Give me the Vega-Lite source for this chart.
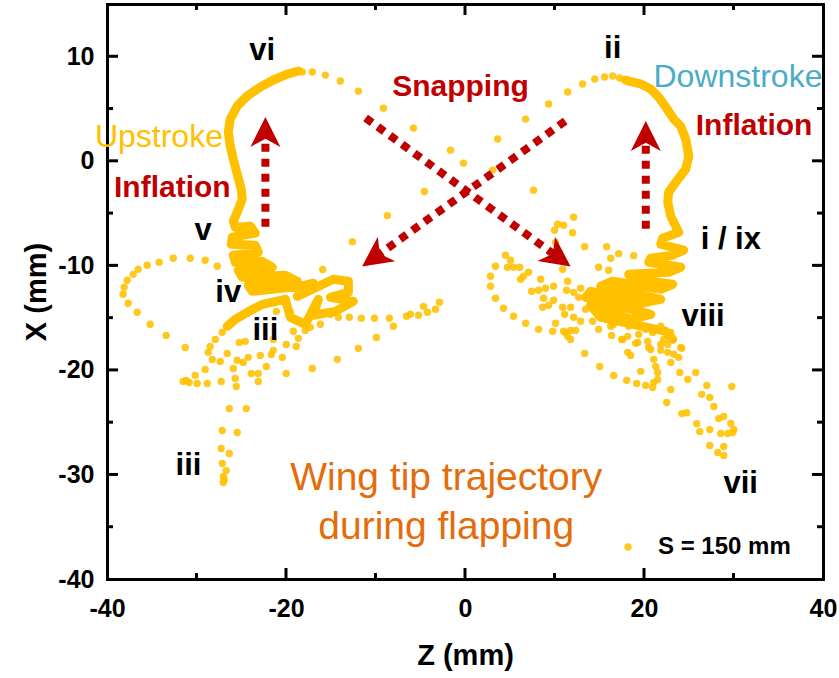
{
  "$schema": "https://vega.github.io/schema/vega-lite/v6.json",
  "width": 716,
  "height": 575,
  "autosize": "none",
  "padding": {"left": 107, "top": 4, "right": 16, "bottom": 99},
  "background": "white",
  "config": {"view": {"stroke": null}, "font": "Liberation Sans"},
  "datasets": {
    "dots": [
      {"z": -18.18, "x": 8.5}, {"z": -17.06, "x": 8.5}, {"z": -15.6, "x": 8.2}, {"z": -13.93, "x": 7.63}, {"z": -11.91, "x": 6.67}, {"z": -9.12, "x": 5.04},
      {"z": -5.76, "x": 3.13}, {"z": -1.62, "x": 1.02}, {"z": -0.17, "x": -0.22}, {"z": -4.53, "x": -2.94}, {"z": -8.67, "x": -5.24}, {"z": -12.58, "x": -7.73}, {"z": -15.9, "x": -10.4},
      {"z": 3.64, "x": 2.08}, {"z": 3.08, "x": -0.89}, {"z": 6.77, "x": 3.99}, {"z": 9.34, "x": 5.43}, {"z": 11.47, "x": 6.58}, {"z": 13.14, "x": 7.35}, {"z": 14.49, "x": 7.83}, {"z": 15.6, "x": 8.02}, {"z": 16.5, "x": 8.12}, {"z": 17.28, "x": 7.92}, {"z": 7.66, "x": -2.81},
      {"z": -32.6, "x": -9.32}, {"z": -30.7, "x": -9.32}, {"z": -29.03, "x": -9.51}, {"z": -27.68, "x": -10.08}, {"z": -34.17, "x": -9.7}, {"z": -35.51, "x": -9.99}, {"z": -36.52, "x": -10.38}, {"z": -37.08, "x": -10.86}, {"z": -37.75, "x": -11.43}, {"z": -38.09, "x": -12.1}, {"z": -38.2, "x": -12.77}, {"z": -37.64, "x": -13.63}, {"z": -36.63, "x": -14.49}, {"z": -35.18, "x": -15.64}, {"z": -33.39, "x": -16.7}, {"z": -31.26, "x": -17.85},
      {"z": -27.12, "x": -16.4}, {"z": -27.9, "x": -17.08}, {"z": -28.47, "x": -17.75}, {"z": -28.69, "x": -18.32}, {"z": -28.24, "x": -19.0}, {"z": -27.35, "x": -19.19},
      {"z": -25.22, "x": -17.37}, {"z": -24.55, "x": -17.27}, {"z": -26.57, "x": -18.42}, {"z": -25.45, "x": -19.08}, {"z": -24.78, "x": -19.28}, {"z": -24.22, "x": -18.8}, {"z": -22.87, "x": -18.61}, {"z": -22.2, "x": -19.67}, {"z": -21.64, "x": -18.52}, {"z": -21.42, "x": -18.13}, {"z": -20.41, "x": -18.8}, {"z": -19.97, "x": -17.56}, {"z": -18.85, "x": -17.75}, {"z": -18.62, "x": -16.98},
      {"z": -23.88, "x": -20.34}, {"z": -23.1, "x": -20.34}, {"z": -23.1, "x": -21.1}, {"z": -25.89, "x": -19.86}, {"z": -25.67, "x": -20.81}, {"z": -25.56, "x": -21.58}, {"z": -27.24, "x": -21.1}, {"z": -28.8, "x": -21.29}, {"z": -29.92, "x": -21.29}, {"z": -30.82, "x": -21.2}, {"z": -31.49, "x": -21.1}, {"z": -31.15, "x": -21.0}, {"z": -30.15, "x": -20.52}, {"z": -29.03, "x": -19.95},
      {"z": -17.06, "x": -19.86}, {"z": -19.97, "x": -20.34}, {"z": -14.26, "x": -18.99}, {"z": -11.91, "x": -17.94}, {"z": -9.9, "x": -16.89}, {"z": -21.42, "x": -17.08},
      {"z": -21.08, "x": -14.4}, {"z": -19.52, "x": -14.49}, {"z": -19.18, "x": -16.31}, {"z": -17.84, "x": -16.22}, {"z": -17.28, "x": -15.93}, {"z": -16.16, "x": -15.64}, {"z": -15.04, "x": -14.68}, {"z": -14.15, "x": -14.97},
      {"z": -12.92, "x": -14.97}, {"z": -11.58, "x": -15.06}, {"z": -10.12, "x": -15.06}, {"z": -8.45, "x": -15.06}, {"z": -8.0, "x": -15.83}, {"z": -6.54, "x": -14.87}, {"z": -5.2, "x": -14.77}, {"z": -4.19, "x": -14.49}, {"z": -3.3, "x": -14.2}, {"z": -2.85, "x": -13.53}, {"z": -4.64, "x": -13.92}, {"z": -6.1, "x": -14.68},
      {"z": -26.34, "x": -23.7}, {"z": -24.44, "x": -23.7}, {"z": -27.12, "x": -25.8}, {"z": -25.45, "x": -25.99}, {"z": -27.24, "x": -27.52}, {"z": -26.34, "x": -28.0}, {"z": -27.12, "x": -28.96}, {"z": -26.68, "x": -29.63}, {"z": -27.01, "x": -30.2}, {"z": -26.9, "x": -30.5}, {"z": -27.01, "x": -30.78},
      {"z": 12.14, "x": -5.39}, {"z": 10.35, "x": -6.06}, {"z": 11.02, "x": -6.16}, {"z": 10.01, "x": -6.64}, {"z": 12.02, "x": -6.87}, {"z": 13.37, "x": -8.21}, {"z": 15.83, "x": -8.21}, {"z": 17.17, "x": -8.88}, {"z": 18.85, "x": -9.07}, {"z": 16.28, "x": -9.32}, {"z": 14.93, "x": -10.18}, {"z": 16.05, "x": -10.47}, {"z": 10.91, "x": -10.37}, {"z": 11.47, "x": -11.52}, {"z": 11.35, "x": -12.38}, {"z": 10.12, "x": -7.82},
      {"z": 4.53, "x": -9.03}, {"z": 5.09, "x": -9.51}, {"z": 3.41, "x": -10.08}, {"z": 4.75, "x": -10.18}, {"z": 5.42, "x": -10.18}, {"z": 6.1, "x": -10.18}, {"z": 7.1, "x": -10.66}, {"z": 6.54, "x": -11.04}, {"z": 6.21, "x": -11.33}, {"z": 2.85, "x": -11.04}, {"z": 2.85, "x": -12.0}, {"z": 3.41, "x": -13.15}, {"z": 4.31, "x": -14.11}, {"z": 5.42, "x": -14.87}, {"z": 6.77, "x": -15.54}, {"z": 8.22, "x": -16.12}, {"z": 9.79, "x": -16.31},
      {"z": 8.45, "x": -11.33}, {"z": 7.44, "x": -12.48}, {"z": 8.22, "x": -12.38}, {"z": 9.0, "x": -12.19}, {"z": 8.78, "x": -13.15}, {"z": 9.9, "x": -12.0}, {"z": 9.9, "x": -13.34}, {"z": 9.34, "x": -13.82}, {"z": 8.67, "x": -14.01}, {"z": 10.91, "x": -14.01}, {"z": 11.8, "x": -14.01}, {"z": 11.13, "x": -14.68}, {"z": 12.14, "x": -14.97}, {"z": 12.92, "x": -15.35}, {"z": 13.48, "x": -14.2}, {"z": 10.12, "x": -15.54}, {"z": 11.8, "x": -16.22}, {"z": 11.02, "x": -16.31}, {"z": 11.47, "x": -16.79}, {"z": 12.7, "x": -13.06}, {"z": 12.14, "x": -12.58}, {"z": 12.92, "x": -12.19},
      {"z": 16.28, "x": -15.83}, {"z": 18.18, "x": -16.79}, {"z": 19.3, "x": -17.37}, {"z": 17.62, "x": -17.08}, {"z": 22.99, "x": -16.41}, {"z": 24.1, "x": -17.85},
      {"z": 14.26, "x": -15.35}, {"z": 14.93, "x": -16.12}, {"z": 16.61, "x": -15.64}, {"z": 17.62, "x": -15.35}, {"z": 18.29, "x": -15.83}, {"z": 19.63, "x": -15.83}, {"z": 20.19, "x": -16.12}, {"z": 20.97, "x": -16.41}, {"z": 21.87, "x": -15.83}, {"z": 22.2, "x": -17.08}, {"z": 20.53, "x": -17.85}, {"z": 21.87, "x": -17.56},
      {"z": 11.24, "x": -16.41}, {"z": 11.8, "x": -17.08}, {"z": 12.36, "x": -16.22}, {"z": 13.37, "x": -18.42}, {"z": 15.04, "x": -19.67}, {"z": 16.61, "x": -20.53}, {"z": 18.06, "x": -21.0}, {"z": 19.18, "x": -21.29}, {"z": 20.19, "x": -21.48}, {"z": 20.97, "x": -21.68}, {"z": 21.09, "x": -21.2}, {"z": 21.53, "x": -20.91}, {"z": 21.53, "x": -20.24}, {"z": 21.31, "x": -19.67}, {"z": 21.09, "x": -18.99}, {"z": 19.63, "x": -20.14}, {"z": 18.18, "x": -18.32}, {"z": 18.51, "x": -18.61},
      {"z": 16.39, "x": -16.7}, {"z": 17.51, "x": -17.08}, {"z": 19.07, "x": -17.46}, {"z": 19.41, "x": -16.6}, {"z": 20.41, "x": -17.27}, {"z": 20.75, "x": -18.04}, {"z": 21.87, "x": -18.13}, {"z": 22.65, "x": -17.56}, {"z": 22.65, "x": -18.32}, {"z": 23.32, "x": -18.5}, {"z": 23.88, "x": -18.8}, {"z": 22.99, "x": -19.28}, {"z": 24.22, "x": -17.94}, {"z": 24.0, "x": -20.24}, {"z": 24.89, "x": -20.91}, {"z": 25.78, "x": -20.24},
      {"z": 22.99, "x": -21.87}, {"z": 22.54, "x": -23.12}, {"z": 24.22, "x": -24.18}, {"z": 24.78, "x": -24.09}, {"z": 25.89, "x": -25.14}, {"z": 26.23, "x": -25.9}, {"z": 27.35, "x": -25.71}, {"z": 26.45, "x": -22.34}, {"z": 27.01, "x": -21.48}, {"z": 27.35, "x": -22.63}, {"z": 27.8, "x": -23.5}, {"z": 28.36, "x": -24.64}, {"z": 28.91, "x": -24.45}, {"z": 29.7, "x": -25.12}, {"z": 30.03, "x": -25.7}, {"z": 29.92, "x": -25.99}, {"z": 29.36, "x": -26.08}, {"z": 28.58, "x": -26.08}, {"z": 27.35, "x": -27.23}, {"z": 28.91, "x": -27.33}, {"z": 28.24, "x": -27.9}, {"z": 28.91, "x": -28.19}, {"z": 29.81, "x": -21.58}
    ],
    "traces": [
      {"trace": "L1", "i": 1, "z": -25.67, "x": -6.35}, {"trace": "L1", "i": 2, "z": -25.89, "x": -5.78}, {"trace": "L1", "i": 3, "z": -25.45, "x": -4.91}, {"trace": "L1", "i": 4, "z": -24.89, "x": -3.67}, {"trace": "L1", "i": 5, "z": -25.0, "x": -2.71}, {"trace": "L1", "i": 6, "z": -25.45, "x": -1.27}, {"trace": "L1", "i": 7, "z": -25.89, "x": 0.16}, {"trace": "L1", "i": 8, "z": -26.23, "x": 1.41}, {"trace": "L1", "i": 9, "z": -26.45, "x": 2.75}, {"trace": "L1", "i": 10, "z": -26.23, "x": 3.99}, {"trace": "L1", "i": 11, "z": -25.45, "x": 5.24}, {"trace": "L1", "i": 12, "z": -24.33, "x": 6.2}, {"trace": "L1", "i": 13, "z": -22.87, "x": 7.06}, {"trace": "L1", "i": 14, "z": -21.42, "x": 7.73}, {"trace": "L1", "i": 15, "z": -19.85, "x": 8.3}, {"trace": "L1", "i": 16, "z": -18.62, "x": 8.59},
      {"trace": "L2", "i": 1, "z": -25.67, "x": -6.35}, {"trace": "L2", "i": 2, "z": -23.99, "x": -6.25}, {"trace": "L2", "i": 3, "z": -23.43, "x": -6.92}, {"trace": "L2", "i": 4, "z": -26.0, "x": -7.3}, {"trace": "L2", "i": 5, "z": -26.12, "x": -7.98}, {"trace": "L2", "i": 6, "z": -23.43, "x": -8.07}, {"trace": "L2", "i": 7, "z": -23.1, "x": -8.75}, {"trace": "L2", "i": 8, "z": -25.89, "x": -9.03}, {"trace": "L2", "i": 9, "z": -25.67, "x": -9.7}, {"trace": "L2", "i": 10, "z": -22.65, "x": -9.61}, {"trace": "L2", "i": 11, "z": -21.53, "x": -10.18}, {"trace": "L2", "i": 12, "z": -25.34, "x": -10.47}, {"trace": "L2", "i": 13, "z": -24.89, "x": -11.14}, {"trace": "L2", "i": 14, "z": -20.08, "x": -10.95}, {"trace": "L2", "i": 15, "z": -18.74, "x": -11.52}, {"trace": "L2", "i": 16, "z": -24.22, "x": -11.9}, {"trace": "L2", "i": 17, "z": -23.77, "x": -12.48}, {"trace": "L2", "i": 18, "z": -18.4, "x": -12.0}, {"trace": "L2", "i": 19, "z": -16.95, "x": -11.7}, {"trace": "L2", "i": 20, "z": -18.74, "x": -12.96}, {"trace": "L2", "i": 21, "z": -14.71, "x": -11.33}, {"trace": "L2", "i": 22, "z": -13.03, "x": -11.52}, {"trace": "L2", "i": 23, "z": -13.03, "x": -12.58}, {"trace": "L2", "i": 24, "z": -15.04, "x": -13.06}, {"trace": "L2", "i": 25, "z": -12.47, "x": -13.44}, {"trace": "L2", "i": 26, "z": -14.49, "x": -14.4}, {"trace": "L2", "i": 27, "z": -16.95, "x": -14.77}, {"trace": "L2", "i": 28, "z": -16.39, "x": -13.25}, {"trace": "L2", "i": 29, "z": -17.84, "x": -15.64}, {"trace": "L2", "i": 30, "z": -19.52, "x": -14.97}, {"trace": "L2", "i": 31, "z": -20.08, "x": -13.25},
      {"trace": "L3", "i": 1, "z": -20.08, "x": -13.25}, {"trace": "L3", "i": 2, "z": -22.65, "x": -13.73}, {"trace": "L3", "i": 3, "z": -24.33, "x": -14.49}, {"trace": "L3", "i": 4, "z": -25.67, "x": -15.16}, {"trace": "L3", "i": 5, "z": -26.57, "x": -15.83},
      {"trace": "R1", "i": 1, "z": 17.95, "x": 7.73}, {"trace": "R1", "i": 2, "z": 18.29, "x": 7.63}, {"trace": "R1", "i": 3, "z": 19.63, "x": 7.35}, {"trace": "R1", "i": 4, "z": 20.75, "x": 6.87}, {"trace": "R1", "i": 5, "z": 21.64, "x": 6.1}, {"trace": "R1", "i": 6, "z": 22.43, "x": 5.14}, {"trace": "R1", "i": 7, "z": 23.32, "x": 3.99}, {"trace": "R1", "i": 8, "z": 24.1, "x": 3.32}, {"trace": "R1", "i": 9, "z": 24.66, "x": 2.08}, {"trace": "R1", "i": 10, "z": 25.0, "x": 0.45}, {"trace": "R1", "i": 11, "z": 24.66, "x": -0.8}, {"trace": "R1", "i": 12, "z": 23.55, "x": -2.04}, {"trace": "R1", "i": 13, "z": 22.76, "x": -3.0}, {"trace": "R1", "i": 14, "z": 22.65, "x": -3.95}, {"trace": "R1", "i": 15, "z": 22.99, "x": -5.3}, {"trace": "R1", "i": 16, "z": 23.55, "x": -6.25}, {"trace": "R1", "i": 17, "z": 23.88, "x": -6.83},
      {"trace": "R2", "i": 1, "z": 23.88, "x": -6.83}, {"trace": "R2", "i": 2, "z": 22.09, "x": -7.4}, {"trace": "R2", "i": 3, "z": 21.87, "x": -7.98}, {"trace": "R2", "i": 4, "z": 24.44, "x": -8.55}, {"trace": "R2", "i": 5, "z": 23.21, "x": -9.03}, {"trace": "R2", "i": 6, "z": 20.75, "x": -9.32}, {"trace": "R2", "i": 7, "z": 20.53, "x": -9.7}, {"trace": "R2", "i": 8, "z": 24.1, "x": -10.18}, {"trace": "R2", "i": 9, "z": 22.76, "x": -10.66}, {"trace": "R2", "i": 10, "z": 18.29, "x": -10.86}, {"trace": "R2", "i": 11, "z": 18.74, "x": -11.33}, {"trace": "R2", "i": 12, "z": 23.21, "x": -11.81}, {"trace": "R2", "i": 13, "z": 21.87, "x": -12.29}, {"trace": "R2", "i": 14, "z": 16.5, "x": -11.52}, {"trace": "R2", "i": 15, "z": 15.16, "x": -12.0}, {"trace": "R2", "i": 16, "z": 21.87, "x": -13.25}, {"trace": "R2", "i": 17, "z": 19.63, "x": -13.64}, {"trace": "R2", "i": 18, "z": 14.04, "x": -12.48}, {"trace": "R2", "i": 19, "z": 13.48, "x": -13.06}, {"trace": "R2", "i": 20, "z": 20.75, "x": -14.68}, {"trace": "R2", "i": 21, "z": 18.51, "x": -15.16}, {"trace": "R2", "i": 22, "z": 14.04, "x": -13.82}, {"trace": "R2", "i": 23, "z": 15.16, "x": -14.97}, {"trace": "R2", "i": 24, "z": 22.43, "x": -16.32}, {"trace": "R2", "i": 25, "z": 23.21, "x": -17.08}
    ],
    "arrows": [
      {"dir": "up", "z0": -22.3, "x0": -6.3, "zs": -22.3, "xs": 2.3, "z1": -22.3, "x1": 4.2},
      {"dir": "up", "z0": 20.2, "x0": -6.5, "zs": 20.2, "xs": 1.9, "z1": 20.2, "x1": 3.8},
      {"dir": "down-right", "z0": -11.1, "x0": 4.1, "zs": 10.0, "xs": -8.98, "z1": 11.8, "x1": -10.1},
      {"dir": "down-left", "z0": 11.2, "x0": 3.8, "zs": -9.68, "xs": -8.99, "z1": -11.5, "x1": -10.1}
    ],
    "zticks": [
      {"at": -30, "rank": "minor"}, {"at": -20, "rank": "major"}, {"at": -10, "rank": "minor"}, {"at": 0, "rank": "major"},
      {"at": 10, "rank": "minor"}, {"at": 20, "rank": "major"}, {"at": 30, "rank": "minor"}
    ],
    "xticks": [
      {"at": -35, "rank": "minor"}, {"at": -30, "rank": "major"}, {"at": -25, "rank": "minor"}, {"at": -20, "rank": "major"}, {"at": -15, "rank": "minor"},
      {"at": -10, "rank": "major"}, {"at": -5, "rank": "minor"}, {"at": 0, "rank": "major"}, {"at": 5, "rank": "minor"}, {"at": 10, "rank": "major"}
    ],
    "notes": [
      {"kind": "stage", "text": "vi", "z": -22.65, "x": 10.5},
      {"kind": "stage", "text": "ii", "z": 16.5, "x": 10.7},
      {"kind": "stage", "text": "v", "z": -29.25, "x": -6.7},
      {"kind": "stage", "text": "iv", "z": -26.45, "x": -12.6},
      {"kind": "stage", "text": "iii", "z": -22.3, "x": -16.3},
      {"kind": "stage", "text": "iii", "z": -30.9, "x": -29.2},
      {"kind": "stage", "text": "i / ix", "z": 29.7, "x": -7.6},
      {"kind": "stage", "text": "viii", "z": 26.6, "x": -14.9},
      {"kind": "stage", "text": "vii", "z": 30.8, "x": -30.9},
      {"kind": "effect", "text": "Snapping", "z": -0.5, "x": 7.1},
      {"kind": "effect", "text": "Inflation", "z": 32.3, "x": 3.3},
      {"kind": "effect", "text": "Inflation", "z": -32.7, "x": -2.6},
      {"kind": "upstroke", "text": "Upstroke", "z": -34.2, "x": 2.3},
      {"kind": "downstroke", "text": "Downstroke", "z": 30.5, "x": 8.0},
      {"kind": "caption", "text": "Wing tip trajectory", "z": -2.1, "x": -30.3},
      {"kind": "caption", "text": "during flapping", "z": -2.1, "x": -35.0}
    ]
  },
  "resolve": {"axis": {"x": "independent", "y": "independent"}},
  "layer": [
    {
      "data": {"name": "dots"},
      "mark": {"type": "circle", "size": 55, "opacity": 0.88},
      "encoding": {
        "x": {
          "field": "z", "type": "quantitative",
          "scale": {"domain": [-40, 40], "nice": false, "zero": false},
          "axis": {
            "orient": "bottom", "title": "Z (mm)", "grid": false, "ticks": false,
            "values": [-40, -20, 0, 20, 40],
            "labelExpr": "'' + datum.value",
            "labelFont": "Liberation Sans", "labelFontSize": 25, "labelFontWeight": "bold", "labelColor": "black",
            "labelPadding": 17, "labelFlush": false, "labelOverlap": false,
            "domainWidth": 3, "domainColor": "black", "domainCap": "square",
            "titleFont": "Liberation Sans", "titleFontSize": 29, "titleFontWeight": "bold", "titleColor": "black", "titlePadding": 20
          }
        },
        "y": {
          "field": "x", "type": "quantitative",
          "scale": {"domain": [-40, 15], "nice": false, "zero": false},
          "axis": {
            "orient": "left", "title": "X (mm)", "grid": false, "ticks": false,
            "values": [-40, -30, -20, -10, 0, 10],
            "labelExpr": "'' + datum.value",
            "labelFont": "Liberation Sans", "labelFontSize": 25, "labelFontWeight": "bold", "labelColor": "black",
            "labelPadding": 13, "labelFlush": false, "labelOverlap": false,
            "domainWidth": 3, "domainColor": "black", "domainCap": "square",
            "titleFont": "Liberation Sans", "titleFontSize": 29, "titleFontWeight": "bold", "titleColor": "black", "titlePadding": 6
          }
        },
        "color": {
          "datum": "S = 150 mm",
          "scale": {"range": ["#FFC000"]},
          "legend": {
            "title": null, "orient": "none", "legendX": 509, "legendY": 531, "padding": 0,
            "symbolType": "circle", "symbolSize": 55, "symbolStrokeWidth": 0,
            "labelFont": "Liberation Sans", "labelFontSize": 24, "labelFontWeight": "bold", "labelColor": "black", "labelOffset": 18
          }
        }
      }
    },
    {
      "data": {"name": "traces"},
      "mark": {"type": "line", "color": "#FFC000", "strokeWidth": 9, "strokeCap": "round", "strokeJoin": "round"},
      "encoding": {
        "x": {
          "field": "z", "type": "quantitative",
          "scale": {"domain": [-40, 40], "nice": false, "zero": false},
          "axis": {"orient": "top", "title": null, "grid": false, "labels": false, "ticks": false, "domainWidth": 3, "domainColor": "black", "domainCap": "square"}
        },
        "y": {
          "field": "x", "type": "quantitative",
          "scale": {"domain": [-40, 15], "nice": false, "zero": false},
          "axis": {"orient": "right", "title": null, "grid": false, "labels": false, "ticks": false, "domainWidth": 3, "domainColor": "black", "domainCap": "square"}
        },
        "detail": {"field": "trace"},
        "order": {"field": "i", "type": "quantitative"}
      }
    },
    {
      "data": {"name": "arrows"},
      "mark": {"type": "rule", "color": "#C00000", "strokeWidth": 8, "strokeDash": [8, 7], "strokeCap": "butt"},
      "encoding": {
        "x": {"field": "z0", "type": "quantitative", "scale": {"domain": [-40, 40], "nice": false, "zero": false}, "axis": null},
        "y": {"field": "x0", "type": "quantitative", "scale": {"domain": [-40, 15], "nice": false, "zero": false}, "axis": null},
        "x2": {"field": "zs"},
        "y2": {"field": "xs"}
      }
    },
    {
      "data": {"name": "arrows"},
      "transform": [{"filter": "datum.dir === 'up'"}],
      "mark": {"type": "point", "shape": "M0,0 L1,2 L0,1.45 L-1,2 Z", "filled": true, "color": "#C00000", "opacity": 1, "size": 900, "strokeWidth": 0, "angle": 0},
      "encoding": {
        "x": {"field": "z1", "type": "quantitative", "scale": {"domain": [-40, 40], "nice": false, "zero": false}, "axis": null},
        "y": {"field": "x1", "type": "quantitative", "scale": {"domain": [-40, 15], "nice": false, "zero": false}, "axis": null}
      }
    },
    {
      "data": {"name": "arrows"},
      "transform": [{"filter": "datum.dir === 'down-right'"}],
      "mark": {"type": "point", "shape": "M0,0 L1,2 L0,1.45 L-1,2 Z", "filled": true, "color": "#C00000", "opacity": 1, "size": 900, "strokeWidth": 0, "angle": 125.8},
      "encoding": {
        "x": {"field": "z1", "type": "quantitative", "scale": {"domain": [-40, 40], "nice": false, "zero": false}, "axis": null},
        "y": {"field": "x1", "type": "quantitative", "scale": {"domain": [-40, 15], "nice": false, "zero": false}, "axis": null}
      }
    },
    {
      "data": {"name": "arrows"},
      "transform": [{"filter": "datum.dir === 'down-left'"}],
      "mark": {"type": "point", "shape": "M0,0 L1,2 L0,1.45 L-1,2 Z", "filled": true, "color": "#C00000", "opacity": 1, "size": 900, "strokeWidth": 0, "angle": 234.5},
      "encoding": {
        "x": {"field": "z1", "type": "quantitative", "scale": {"domain": [-40, 40], "nice": false, "zero": false}, "axis": null},
        "y": {"field": "x1", "type": "quantitative", "scale": {"domain": [-40, 15], "nice": false, "zero": false}, "axis": null}
      }
    },
    {
      "data": {"name": "notes"},
      "transform": [{"filter": "datum.kind === 'stage'"}],
      "mark": {"type": "text", "font": "Liberation Sans", "fontSize": 31, "fontWeight": "bold", "color": "black", "align": "center", "baseline": "middle"},
      "encoding": {
        "x": {"field": "z", "type": "quantitative", "scale": {"domain": [-40, 40], "nice": false, "zero": false}, "axis": null},
        "y": {"field": "x", "type": "quantitative", "scale": {"domain": [-40, 15], "nice": false, "zero": false}, "axis": null},
        "text": {"field": "text"}
      }
    },
    {
      "data": {"name": "notes"},
      "transform": [{"filter": "datum.kind === 'effect'"}],
      "mark": {"type": "text", "font": "Liberation Sans", "fontSize": 30, "fontWeight": "bold", "color": "#C00000", "align": "center", "baseline": "middle"},
      "encoding": {
        "x": {"field": "z", "type": "quantitative", "scale": {"domain": [-40, 40], "nice": false, "zero": false}, "axis": null},
        "y": {"field": "x", "type": "quantitative", "scale": {"domain": [-40, 15], "nice": false, "zero": false}, "axis": null},
        "text": {"field": "text"}
      }
    },
    {
      "data": {"name": "notes"},
      "transform": [{"filter": "datum.kind === 'upstroke'"}],
      "mark": {"type": "text", "font": "Liberation Sans", "fontSize": 32, "fontWeight": "normal", "color": "#FFC000", "align": "center", "baseline": "middle"},
      "encoding": {
        "x": {"field": "z", "type": "quantitative", "scale": {"domain": [-40, 40], "nice": false, "zero": false}, "axis": null},
        "y": {"field": "x", "type": "quantitative", "scale": {"domain": [-40, 15], "nice": false, "zero": false}, "axis": null},
        "text": {"field": "text"}
      }
    },
    {
      "data": {"name": "notes"},
      "transform": [{"filter": "datum.kind === 'downstroke'"}],
      "mark": {"type": "text", "font": "Liberation Sans", "fontSize": 32, "fontWeight": "normal", "color": "#4BACC6", "align": "center", "baseline": "middle"},
      "encoding": {
        "x": {"field": "z", "type": "quantitative", "scale": {"domain": [-40, 40], "nice": false, "zero": false}, "axis": null},
        "y": {"field": "x", "type": "quantitative", "scale": {"domain": [-40, 15], "nice": false, "zero": false}, "axis": null},
        "text": {"field": "text"}
      }
    },
    {
      "data": {"name": "notes"},
      "transform": [{"filter": "datum.kind === 'caption'"}],
      "mark": {"type": "text", "font": "Liberation Sans", "fontSize": 39, "fontWeight": "normal", "color": "#E46C0A", "align": "center", "baseline": "middle"},
      "encoding": {
        "x": {"field": "z", "type": "quantitative", "scale": {"domain": [-40, 40], "nice": false, "zero": false}, "axis": null},
        "y": {"field": "x", "type": "quantitative", "scale": {"domain": [-40, 15], "nice": false, "zero": false}, "axis": null},
        "text": {"field": "text"}
      }
    },
    {
      "data": {"name": "zticks"},
      "transform": [{"filter": "datum.rank === 'major'"}],
      "mark": {"type": "rule", "color": "black", "strokeWidth": 3},
      "encoding": {
        "x": {"field": "at", "type": "quantitative", "scale": {"domain": [-40, 40], "nice": false, "zero": false}, "axis": null},
        "y": {"datum": -40, "type": "quantitative", "scale": {"domain": [-40, 15], "nice": false, "zero": false}, "axis": null},
        "y2": {"datum": -38.95}
      }
    },
    {
      "data": {"name": "zticks"},
      "transform": [{"filter": "datum.rank === 'minor'"}],
      "mark": {"type": "rule", "color": "black", "strokeWidth": 3},
      "encoding": {
        "x": {"field": "at", "type": "quantitative", "scale": {"domain": [-40, 40], "nice": false, "zero": false}, "axis": null},
        "y": {"datum": -40, "type": "quantitative", "scale": {"domain": [-40, 15], "nice": false, "zero": false}, "axis": null},
        "y2": {"datum": -39.43}
      }
    },
    {
      "data": {"name": "zticks"},
      "transform": [{"filter": "datum.rank === 'major'"}],
      "mark": {"type": "rule", "color": "black", "strokeWidth": 3},
      "encoding": {
        "x": {"field": "at", "type": "quantitative", "scale": {"domain": [-40, 40], "nice": false, "zero": false}, "axis": null},
        "y": {"datum": 15, "type": "quantitative", "scale": {"domain": [-40, 15], "nice": false, "zero": false}, "axis": null},
        "y2": {"datum": 13.95}
      }
    },
    {
      "data": {"name": "zticks"},
      "transform": [{"filter": "datum.rank === 'minor'"}],
      "mark": {"type": "rule", "color": "black", "strokeWidth": 3},
      "encoding": {
        "x": {"field": "at", "type": "quantitative", "scale": {"domain": [-40, 40], "nice": false, "zero": false}, "axis": null},
        "y": {"datum": 15, "type": "quantitative", "scale": {"domain": [-40, 15], "nice": false, "zero": false}, "axis": null},
        "y2": {"datum": 14.43}
      }
    },
    {
      "data": {"name": "xticks"},
      "transform": [{"filter": "datum.rank === 'major'"}],
      "mark": {"type": "rule", "color": "black", "strokeWidth": 3},
      "encoding": {
        "x": {"datum": -40, "type": "quantitative", "scale": {"domain": [-40, 40], "nice": false, "zero": false}, "axis": null},
        "x2": {"datum": -38.77},
        "y": {"field": "at", "type": "quantitative", "scale": {"domain": [-40, 15], "nice": false, "zero": false}, "axis": null}
      }
    },
    {
      "data": {"name": "xticks"},
      "transform": [{"filter": "datum.rank === 'minor'"}],
      "mark": {"type": "rule", "color": "black", "strokeWidth": 3},
      "encoding": {
        "x": {"datum": -40, "type": "quantitative", "scale": {"domain": [-40, 40], "nice": false, "zero": false}, "axis": null},
        "x2": {"datum": -39.33},
        "y": {"field": "at", "type": "quantitative", "scale": {"domain": [-40, 15], "nice": false, "zero": false}, "axis": null}
      }
    },
    {
      "data": {"name": "xticks"},
      "transform": [{"filter": "datum.rank === 'major'"}],
      "mark": {"type": "rule", "color": "black", "strokeWidth": 3},
      "encoding": {
        "x": {"datum": 40, "type": "quantitative", "scale": {"domain": [-40, 40], "nice": false, "zero": false}, "axis": null},
        "x2": {"datum": 38.77},
        "y": {"field": "at", "type": "quantitative", "scale": {"domain": [-40, 15], "nice": false, "zero": false}, "axis": null}
      }
    },
    {
      "data": {"name": "xticks"},
      "transform": [{"filter": "datum.rank === 'minor'"}],
      "mark": {"type": "rule", "color": "black", "strokeWidth": 3},
      "encoding": {
        "x": {"datum": 40, "type": "quantitative", "scale": {"domain": [-40, 40], "nice": false, "zero": false}, "axis": null},
        "x2": {"datum": 39.33},
        "y": {"field": "at", "type": "quantitative", "scale": {"domain": [-40, 15], "nice": false, "zero": false}, "axis": null}
      }
    }
  ]
}
